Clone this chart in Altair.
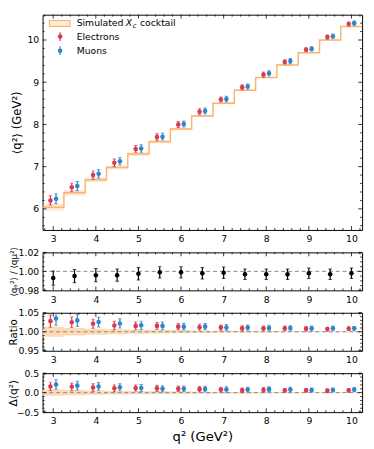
import altair as alt
import numpy as np
import pandas as pd

# ---------------- data ----------------
q2 = [3.0, 3.5, 4.0, 4.5, 5.0, 5.5, 6.0, 6.5, 7.0, 7.5, 8.0, 8.5, 9.0, 9.5, 10.0]
sim_mean = [6.04, 6.38, 6.69, 6.98, 7.30, 7.59, 7.89, 8.20, 8.50, 8.81, 9.11, 9.41, 9.70, 10.00, 10.32]
sim_unc = [0.08, 0.065, 0.055, 0.045, 0.04, 0.035, 0.03, 0.025, 0.02, 0.02, 0.015, 0.015, 0.012, 0.01, 0.01]

ele_mean = [6.20, 6.51, 6.80, 7.09, 7.42, 7.70, 8.00, 8.30, 8.59, 8.88, 9.18, 9.48, 9.77, 10.07, 10.38]
ele_err = [0.11, 0.10, 0.10, 0.09, 0.08, 0.08, 0.07, 0.07, 0.06, 0.06, 0.06, 0.05, 0.05, 0.05, 0.05]
mu_mean = [6.24, 6.54, 6.83, 7.13, 7.43, 7.71, 8.01, 8.32, 8.60, 8.90, 9.21, 9.50, 9.79, 10.09, 10.40]
mu_err = [0.12, 0.11, 0.10, 0.09, 0.09, 0.08, 0.07, 0.07, 0.07, 0.06, 0.06, 0.06, 0.05, 0.05, 0.05]

dratio = [0.993, 0.995, 0.996, 0.996, 0.9975, 0.999, 0.999, 0.998, 0.9985, 0.997, 0.997, 0.997, 0.998, 0.997, 0.998]
dratio_err = [0.0075, 0.007, 0.007, 0.0065, 0.0065, 0.006, 0.006, 0.006, 0.006, 0.0055, 0.0055, 0.0055, 0.0055, 0.0055, 0.0055]

ratio_e = [1.028, 1.025, 1.021, 1.0165, 1.0155, 1.0155, 1.0135, 1.012, 1.011, 1.009, 1.009, 1.009, 1.008, 1.007, 1.008]
ratio_e_err = [0.016, 0.014, 0.012, 0.011, 0.010, 0.009, 0.008, 0.008, 0.007, 0.007, 0.006, 0.006, 0.006, 0.005, 0.005]
ratio_mu = [1.035, 1.030, 1.0255, 1.022, 1.017, 1.0155, 1.0135, 1.0135, 1.011, 1.011, 1.010, 1.010, 1.009, 1.009, 1.009]
ratio_mu_err = [0.018, 0.016, 0.013, 0.012, 0.011, 0.010, 0.009, 0.008, 0.008, 0.007, 0.007, 0.006, 0.006, 0.006, 0.005]
ratio_band = [0.013, 0.010, 0.008, 0.0065, 0.0055, 0.0045, 0.004, 0.003, 0.0025, 0.002, 0.002, 0.0015, 0.0015, 0.001, 0.001]

delta_e = [0.16, 0.15, 0.13, 0.11, 0.12, 0.11, 0.10, 0.09, 0.08, 0.06, 0.07, 0.06, 0.06, 0.05, 0.06]
delta_e_err = [0.11, 0.10, 0.10, 0.09, 0.08, 0.08, 0.07, 0.07, 0.06, 0.06, 0.06, 0.05, 0.05, 0.05, 0.05]
delta_mu = [0.21, 0.18, 0.16, 0.14, 0.12, 0.10, 0.10, 0.095, 0.08, 0.08, 0.09, 0.08, 0.07, 0.07, 0.08]
delta_mu_err = [0.12, 0.11, 0.10, 0.09, 0.09, 0.08, 0.07, 0.07, 0.07, 0.06, 0.06, 0.06, 0.05, 0.05, 0.05]
delta_band = [0.08, 0.065, 0.055, 0.045, 0.04, 0.035, 0.03, 0.025, 0.02, 0.02, 0.015, 0.015, 0.012, 0.01, 0.01]

x_ticks = [3, 4, 5, 6, 7, 8, 9, 10]
legend_labels = ["Simulated", "X", "c", "cocktail", "Electrons", "Muons"]

# ---------------- style ----------------
RED = "#D93A50"
BLUE = "#2F86C6"
ORANGE = "#FDB36E"
BANDC = "#FDD5AE"
W = 328
HALF = 0.25
DX = 0.065
FONT = "DejaVu Sans"

xs = alt.Scale(domain=[2.75, 10.25], nice=False, zero=False)
x_minor = [round(v, 1) for v in np.arange(2.8, 10.25, 0.2) if abs(v - round(v)) > 1e-6]


def XA(title=None):
    if title is None:
        return alt.Axis(values=x_ticks, format="d", title=None)
    return alt.Axis(values=x_ticks, format="d", title=title, titleFontSize=13.5, titlePadding=5)


def step_df(center, vals, extra=None):
    xs_ = [c - HALF for c in center] + [center[-1] + HALF]
    d = {"x": xs_, "v": list(vals) + [vals[-1]]}
    if extra is not None:
        for k, arr in extra.items():
            d[k] = list(arr) + [arr[-1]]
    return pd.DataFrame(d)


def err_layers(xv, yv, ev, color, X, Y, size=22):
    df = pd.DataFrame({"x": xv, "y": yv,
                       "lo": np.array(yv) - np.array(ev),
                       "hi": np.array(yv) + np.array(ev)})
    c = alt.Chart(df)
    bar = c.mark_rule(color=color, strokeWidth=1.2, clip=True).encode(x=X("x"), y=Y("lo"), y2="hi")
    cap1 = c.mark_tick(color=color, orient="horizontal", size=3.5, thickness=1, clip=True).encode(x=X("x"), y=Y("lo"))
    cap2 = c.mark_tick(color=color, orient="horizontal", size=3.5, thickness=1, clip=True).encode(x=X("x"), y=Y("hi"))
    pt = c.mark_circle(color=color, size=size, opacity=1, clip=True).encode(x=X("x"), y=Y("y"))
    return [bar, cap1, cap2, pt]


def tick_layers(H, X, Y, ymaj, ymin):
    layers = []
    for vals, L in [(x_ticks, 4), (x_minor, 2)]:
        d = pd.DataFrame({"t": vals})
        for y0, y1 in [(H, H - L), (0, L)]:
            layers.append(alt.Chart(d).mark_rule(color="black", strokeWidth=0.8).encode(
                x=X("t"), y=alt.value(y0), y2=alt.value(y1)))
    for vals, L in [(ymaj, 4), (ymin, 2)]:
        d = pd.DataFrame({"t": vals})
        for x0, x1 in [(0, L), (W, W - L)]:
            layers.append(alt.Chart(d).mark_rule(color="black", strokeWidth=0.8).encode(
                y=Y("t"), x=alt.value(x0), x2=alt.value(x1)))
    return layers


def make_XY(ydom, ymaj, yfmt, ytitle, tsize, tx, H, xtitle=None):
    ys = alt.Scale(domain=ydom, nice=False, zero=False)
    yax = alt.Axis(values=ymaj, format=yfmt, title=ytitle, titleFontSize=tsize,
                   titleX=tx, titleY=H / 2, titleBaseline="middle", titleAlign="center")
    xax = XA(xtitle)

    def X(f):
        return alt.X(f"{f}:Q", scale=xs, axis=xax)

    def Y(f):
        return alt.Y(f"{f}:Q", scale=ys, axis=yax)
    return X, Y


# ---------------- top panel ----------------
H1 = 221
X1, Y1 = make_XY([5.5, 10.6], [6, 7, 8, 9, 10], "d", "⟨q²⟩ (GeV²)", 12, -27, H1)
sdf = step_df(q2, sim_mean, {"u": sim_unc})
sdf["lo"] = sdf["v"] - sdf["u"]
sdf["hi"] = sdf["v"] + sdf["u"]
band1 = alt.Chart(sdf).mark_area(interpolate="step-after", color=ORANGE, opacity=0.3).encode(
    x=X1("x"), y=Y1("lo"), y2="hi")
line1 = alt.Chart(sdf).mark_line(interpolate="step-after", color=ORANGE, strokeWidth=1.5).encode(
    x=X1("x"), y=Y1("v"))
top_layers = [band1, line1]
top_layers += err_layers(np.array(q2) - DX, ele_mean, ele_err, RED, X1, Y1)
top_layers += err_layers(np.array(q2) + DX, mu_mean, mu_err, BLUE, X1, Y1)
top_layers += tick_layers(H1, X1, Y1, [6, 7, 8, 9, 10],
                          [round(v, 1) for v in np.arange(5.6, 10.6, 0.2) if abs(v - round(v)) > 1e-6])

# legend (manual, matplotlib style)
ld = pd.DataFrame({"t": legend_labels})
def ltxt(i, x, y, size=9.5, italic=False):
    return alt.Chart(ld.iloc[[i]]).mark_text(align="left", baseline="middle", font=FONT, fontSize=size,
                                             fontStyle="italic" if italic else "normal", color="black").encode(
        text="t:N", x=alt.value(x), y=alt.value(y))

top_layers += [
    alt.Chart(ld.iloc[[0]]).mark_rect(fill=ORANGE, fillOpacity=0.25, stroke=ORANGE, strokeWidth=1.2).encode(
        x=alt.value(7), x2=alt.value(28), y=alt.value(6), y2=alt.value(12)),
    ltxt(0, 35, 9), ltxt(1, 85.5, 9, italic=True), ltxt(2, 92.5, 12, size=7, italic=True),
    ltxt(3, 100, 9),
    alt.Chart(ld.iloc[[4]]).mark_rule(color=RED, strokeWidth=1.2).encode(x=alt.value(18), y=alt.value(18), y2=alt.value(27)),
    alt.Chart(ld.iloc[[4]]).mark_circle(color=RED, size=22, opacity=1).encode(x=alt.value(18), y=alt.value(22.5)),
    ltxt(4, 35, 22.5),
    alt.Chart(ld.iloc[[5]]).mark_rule(color=BLUE, strokeWidth=1.2).encode(x=alt.value(18), y=alt.value(32.5), y2=alt.value(41.5)),
    alt.Chart(ld.iloc[[5]]).mark_circle(color=BLUE, size=22, opacity=1).encode(x=alt.value(18), y=alt.value(37)),
    ltxt(5, 35, 37),
]
p1 = alt.layer(*top_layers).properties(width=W, height=H1)


def ref_line(val, X, Y):
    d = pd.DataFrame({"x": [2.75], "x2": [10.25], "v": [val]})
    return alt.Chart(d).mark_rule(color="#888888", strokeDash=[4, 3], strokeWidth=1).encode(
        x=X("x"), x2="x2", y=Y("v"))


# ---------------- double ratio ----------------
H2 = 39
X2, Y2 = make_XY([0.98, 1.02], [0.98, 1.00, 1.02], ".2f", "⟨qₑ²⟩ / ⟨qμ²⟩", 9, -30, H2)
p2_layers = [ref_line(1.0, X2, Y2)]
p2_layers += err_layers(q2, dratio, dratio_err, "black", X2, Y2)
p2_layers += tick_layers(H2, X2, Y2, [0.98, 1.0, 1.02], [0.985, 0.99, 0.995, 1.005, 1.01, 1.015])
p2 = alt.layer(*p2_layers).properties(width=W, height=H2)

# ---------------- ratio ----------------
H3 = 39
X3, Y3 = make_XY([0.95, 1.05], [0.95, 1.00, 1.05], ".2f", "Ratio", 10.5, -30, H3)
rdf = step_df(q2, [1.0] * len(q2), {"b": ratio_band})
rdf["lo"] = rdf["v"] - rdf["b"]
rdf["hi"] = rdf["v"] + rdf["b"]
p3_layers = [
    alt.Chart(rdf).mark_area(interpolate="step-after", color=BANDC, opacity=0.9).encode(x=X3("x"), y=Y3("lo"), y2="hi"),
    ref_line(1.0, X3, Y3),
]
p3_layers += err_layers(np.array(q2) - DX, ratio_e, ratio_e_err, RED, X3, Y3)
p3_layers += err_layers(np.array(q2) + DX, ratio_mu, ratio_mu_err, BLUE, X3, Y3)
p3_layers += tick_layers(H3, X3, Y3, [0.95, 1.0, 1.05], [0.96, 0.97, 0.98, 0.99, 1.01, 1.02, 1.03, 1.04])
p3 = alt.layer(*p3_layers).properties(width=W, height=H3)

# ---------------- delta ----------------
H4 = 40
X4, Y4 = make_XY([-0.5, 0.5], [-0.5, 0.0, 0.5], ".1f", "Δ⟨q²⟩", 11, -30, H4, xtitle="q² (GeV²)")
ddf = step_df(q2, [0.0] * len(q2), {"b": delta_band})
ddf["lo"] = ddf["v"] - ddf["b"]
ddf["hi"] = ddf["v"] + ddf["b"]
p4_layers = [
    alt.Chart(ddf).mark_area(interpolate="step-after", color=BANDC, opacity=0.9).encode(x=X4("x"), y=Y4("lo"), y2="hi"),
    ref_line(0.0, X4, Y4),
]
p4_layers += err_layers(np.array(q2) - DX, delta_e, delta_e_err, RED, X4, Y4)
p4_layers += err_layers(np.array(q2) + DX, delta_mu, delta_mu_err, BLUE, X4, Y4)
p4_layers += tick_layers(H4, X4, Y4, [-0.5, 0.0, 0.5], [-0.4, -0.3, -0.2, -0.1, 0.1, 0.2, 0.3, 0.4])
p4 = alt.layer(*p4_layers).properties(width=W, height=H4)

chart = alt.vconcat(p1, p2, p3, p4, spacing=23, bounds="flush").properties(
    padding={"left": -1.5, "top": 0, "right": 0, "bottom": 0}
).configure_view(stroke="black", strokeWidth=1).configure_axis(
    labelFont=FONT, labelFontSize=9.5, labelColor="black", labelPadding=4,
    titleFont=FONT, titleFontWeight="normal", titleColor="black",
    ticks=False, domain=False, grid=False
)

chart.save("out.html", embed_options={"renderer": "svg", "actions": False})
